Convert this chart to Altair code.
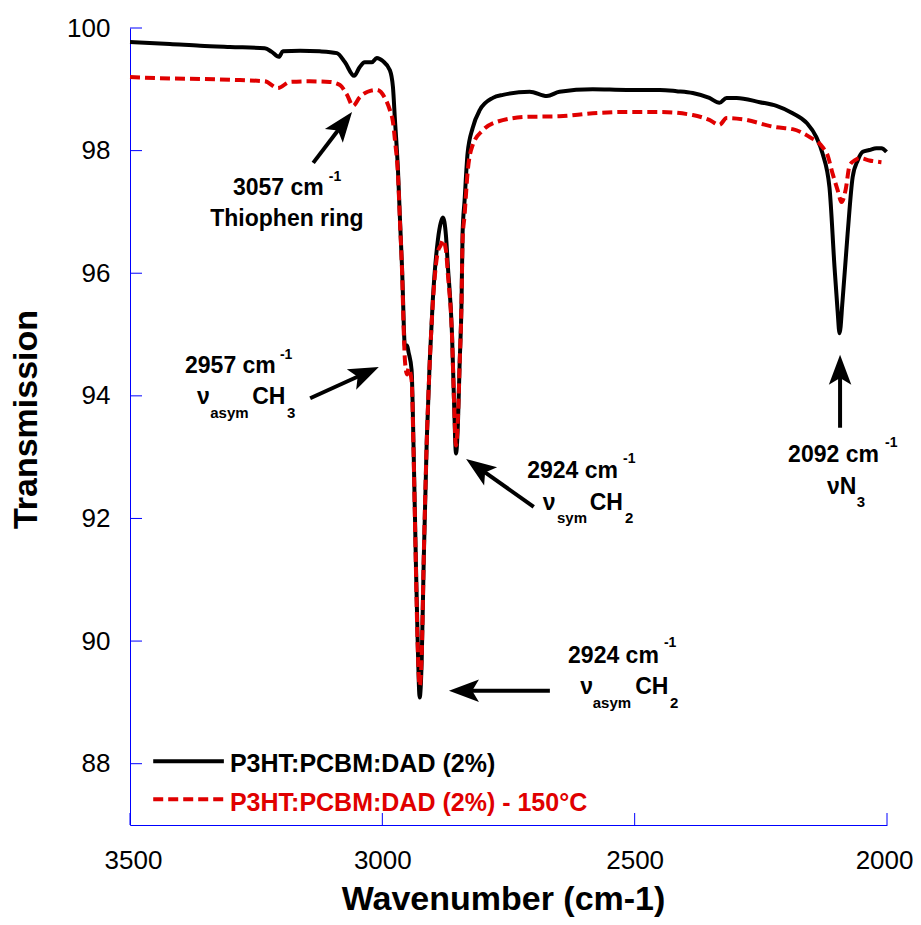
import math
import altair as alt
import pandas as pd

FONT = "Liberation Sans"

# ---------------- data ----------------
bk_wn = [3500,3421,3361,3302,3233,3219,3205,3197,3163,3124,3090,3074,3056,3045,3035,
         3021,3011,2999,2985,2979,2975,2969,2965,2961,2955,2951,2948,2942,2938,2934,
         2930,2926,2922,2918,2912,2906,2900,2890,2884,2880,2874,2870,2862,2858,2854,
         2850,2847,2843,2841,2837,2831,2821,2807,2781,2761,2708,2674,2649,2583,2516,
         2450,2417,2385,2352,2332,2318,2298,2252,2219,2187,2159,2140,2128,2114,2104,
         2098,2094,2088,2078,2068,2058,2048,2035,2021,2011,2001]
bk_T = [99.77,99.74,99.71,99.69,99.67,99.61,99.53,99.62,99.63,99.62,99.59,99.44,99.22,99.36,99.44,
        99.44,99.51,99.46,99.31,99.04,98.50,97.68,96.87,96.10,94.79,94.82,94.71,94.42,93.11,91.48,
        90.01,89.08,89.68,91.31,93.27,94.58,95.56,96.54,96.83,96.91,96.62,96.10,95.02,93.93,93.06,
        93.60,94.47,95.56,96.65,97.19,97.96,98.37,98.66,98.86,98.91,98.96,98.89,98.96,99.00,98.99,
        98.99,98.97,98.94,98.86,98.78,98.86,98.86,98.79,98.73,98.61,98.45,98.22,97.96,97.40,96.10,
        95.40,95.02,95.56,96.65,97.57,97.84,97.98,98.01,98.04,98.04,97.98]

rd_wn = [3500,3441,3361,3282,3233,3207,3183,3144,3104,3084,3070,3058,3045,3029,3011,
         2995,2985,2979,2975,2969,2965,2961,2957,2955,2951,2948,2942,2938,2934,2930,
         2926,2922,2918,2912,2906,2900,2890,2884,2880,2874,2870,2862,2858,2854,2850,
         2847,2843,2841,2837,2831,2821,2801,2773,2714,2649,2583,2516,2450,2385,2352,
         2332,2318,2286,2219,2187,2153,2128,2118,2108,2098,2090,2082,2074,2064,2054,
         2035,2011]
rd_T = [99.20,99.18,99.17,99.15,99.13,99.02,99.12,99.13,99.12,99.07,98.91,98.73,98.87,98.96,98.99,
        98.86,98.66,98.47,98.17,97.60,96.83,96.05,94.91,94.55,94.35,94.45,94.25,93.03,91.40,89.93,
        89.27,89.76,91.35,93.25,94.55,95.50,96.35,96.46,96.54,96.38,95.97,94.99,93.93,93.19,93.68,
        94.47,95.56,96.54,96.95,97.65,98.09,98.33,98.47,98.55,98.56,98.61,98.63,98.63,98.58,98.50,
        98.42,98.53,98.51,98.38,98.35,98.22,98.06,97.93,97.63,97.36,97.16,97.36,97.76,97.84,97.88,
        97.84,97.81]

series_names = ["P3HT:PCBM:DAD (2%)", "P3HT:PCBM:DAD (2%) - 150°C"]

x_ticks = [3500, 3000, 2500, 2000]
y_ticks = [88, 90, 92, 94, 96, 98, 100]

# annotation texts (data coordinates of left/baseline)
ann_text = ["3057 cm", "-1", "Thiophen ring",
            "2957 cm", "-1", "ν", "asym", "CH", "3",
            "2924 cm", "-1", "ν", "sym", "CH", "2",
            "2092 cm", "-1", "νN", "3",
            "2924 cm", "-1", "ν", "asym", "CH", "2"]
ann_x = [3296, 3106, 3341,
         3391, 3203, 3367, 3341, 3258, 3189,
         2713, 2523, 2682, 2654, 2589, 2519,
         2196, 2004, 2119, 2060,
         2632, 2442, 2608, 2583, 2499, 2430]
ann_y = [97.28, 97.50, 96.77,
         94.37, 94.60, 93.87, 93.64, 93.87, 93.64,
         92.66, 92.90, 92.14, 91.93, 92.14, 91.93,
         92.92, 93.17, 92.40, 92.19,
         89.64, 89.90, 89.14, 88.91, 89.14, 88.91]
ann_kind = ["main", "sup", "main",
            "main", "sup", "main", "sub", "main", "sub",
            "main", "sup", "main", "sub", "main", "sub",
            "main", "sup", "main", "sub",
            "main", "sup", "main", "sub", "main", "sub"]

# arrows: tail -> tip (data coordinates)
arr_tail_x = [3137, 3143, 2700, 2668, 2093]
arr_tail_y = [97.80, 93.96, 92.19, 89.19, 93.48]
arr_tip_x = [3060, 3007, 2834, 2868, 2093]
arr_tip_y = [98.63, 94.47, 92.97, 89.19, 94.67]

# legend (data coordinates)
leg_x1, leg_x2, leg_tx = 3454, 3314, 3302
leg_line_y = [88.04, 87.42]
leg_text_y = [87.86, 87.23]

# ---------------- layout ----------------
W, H = 757, 797
XMIN, XMAX, YMIN, YMAX = 2000, 3500, 87, 100
PXW = W / (XMAX - XMIN)
PXH = H / (YMAX - YMIN)
BLUE = "#0000ff"
RED = "#e00000"

XS = alt.Scale(domain=[XMIN, XMAX], reverse=True, nice=False, zero=False)
YS = alt.Scale(domain=[YMIN, YMAX], nice=False, zero=False)

X_ENC = alt.X("x:Q", scale=XS,
              axis=alt.Axis(values=x_ticks, format="d", ticks=False, grid=False,
                            domainColor=BLUE, domainWidth=1,
                            labelFont=FONT, labelFontSize=26, labelColor="black",
                            labelPadding=22, labelFlush=True, labelFlushOffset=26,
                            title="Wavenumber (cm-1)", titleFont=FONT, titleFontSize=34,
                            titleFontWeight="bold", titleColor="black",
                            titleX=373, titleY=84, titleBaseline="alphabetic",
                            titleAlign="center"))
Y_ENC = alt.Y("y:Q", scale=YS,
              axis=alt.Axis(values=y_ticks, format="d", ticks=False, grid=False,
                            domainColor=BLUE, domainWidth=1,
                            labelFont=FONT, labelFontSize=26, labelColor="black",
                            labelPadding=20,
                            title="Transmission", titleFont=FONT, titleFontSize=34,
                            titleFontWeight="bold", titleColor="black",
                            titleX=-94, titleY=391, titleBaseline="alphabetic",
                            titleAngle=270, titleAlign="center"))

bk = pd.DataFrame({"x": bk_wn, "y": bk_T})
rd = pd.DataFrame({"x": rd_wn, "y": rd_T})

line_bk = alt.Chart(bk).mark_line(color="black", strokeWidth=4, interpolate="monotone").encode(
    x=X_ENC, y=Y_ENC, order=alt.Order("x:Q", sort="descending"))
line_rd = alt.Chart(rd).mark_line(color=RED, strokeWidth=4, strokeDash=[10, 5],
                                  interpolate="monotone").encode(
    x=X_ENC, y=Y_ENC, order=alt.Order("x:Q", sort="descending"))

# ticks (inward)
yt = alt.Chart(pd.DataFrame({"y": y_ticks})).mark_rule(color=BLUE, strokeWidth=1).encode(
    y=Y_ENC, x=alt.value(0), x2=alt.value(12))
xt = alt.Chart(pd.DataFrame({"x": x_ticks})).mark_rule(color=BLUE, strokeWidth=1).encode(
    x=X_ENC, y=alt.value(H), y2=alt.value(H - 12))

# arrows
HEAD = 18  # px back from tip where shaft ends
rows, hrows = [], []
for tx, ty, hx, hy in zip(arr_tail_x, arr_tail_y, arr_tip_x, arr_tip_y):
    dx = -(hx - tx) * PXW
    dy = -(hy - ty) * PXH
    L = math.hypot(dx, dy)
    ux, uy = dx / L, dy / L
    ang = math.degrees(math.atan2(ux, -uy)) % 360
    ex = hx + HEAD * ux / PXW
    ey = hy + HEAD * uy / PXH
    rows.append({"x": tx, "y": ty, "x2": ex, "y2": ey})
    hrows.append({"x": hx, "y": hy, "ang": ang})
arr = pd.DataFrame(rows)
hdf = pd.DataFrame(hrows)

shafts = alt.Chart(arr).mark_rule(color="black", strokeWidth=4).encode(
    x=X_ENC, y=Y_ENC, x2="x2:Q", y2="y2:Q")
heads = alt.Chart(hdf).mark_point(
    shape="M0,0 L0.75,2 L0,1.55 L-0.75,2 Z", filled=True, size=900,
    color="black", opacity=1, strokeWidth=0).encode(
    x=X_ENC, y=Y_ENC, angle=alt.Angle("ang:Q", scale=None))

# annotation + legend texts
size_of = {"main": 23, "sup": 14, "sub": 15}
tdf = pd.DataFrame({"x": ann_x, "y": ann_y, "text": ann_text,
                    "fs": [size_of[k] for k in ann_kind],
                    "col": ["black"] * len(ann_text)})
ldf = pd.DataFrame({"x": [leg_tx, leg_tx], "y": leg_text_y, "text": series_names,
                    "fs": [25, 25], "col": ["black", RED]})
texts = alt.Chart(pd.concat([tdf, ldf], ignore_index=True)).mark_text(
    align="left", baseline="alphabetic", font=FONT, fontWeight="bold").encode(
    x=X_ENC, y=Y_ENC, text="text:N",
    size=alt.Size("fs:Q", scale=None), color=alt.Color("col:N", scale=None))

leg_bk = alt.Chart(pd.DataFrame({"x": [leg_x1], "x2": [leg_x2], "y": [leg_line_y[0]]})).mark_rule(
    color="black", strokeWidth=4).encode(x=X_ENC, x2="x2:Q", y=Y_ENC)
leg_rd = alt.Chart(pd.DataFrame({"x": [leg_x1], "x2": [leg_x2], "y": [leg_line_y[1]]})).mark_rule(
    color=RED, strokeWidth=4, strokeDash=[10, 5]).encode(x=X_ENC, x2="x2:Q", y=Y_ENC)

chart = alt.layer(line_bk, line_rd, yt, xt, shafts, heads, texts, leg_bk, leg_rd).properties(
    width=W, height=H,
    padding={"left": 122, "top": 20, "right": 26, "bottom": 92},
    autosize=alt.AutoSizeParams(type="none"),
).configure_view(stroke=None)

chart.save("out.html", embed_options={"renderer": "svg", "actions": False})
